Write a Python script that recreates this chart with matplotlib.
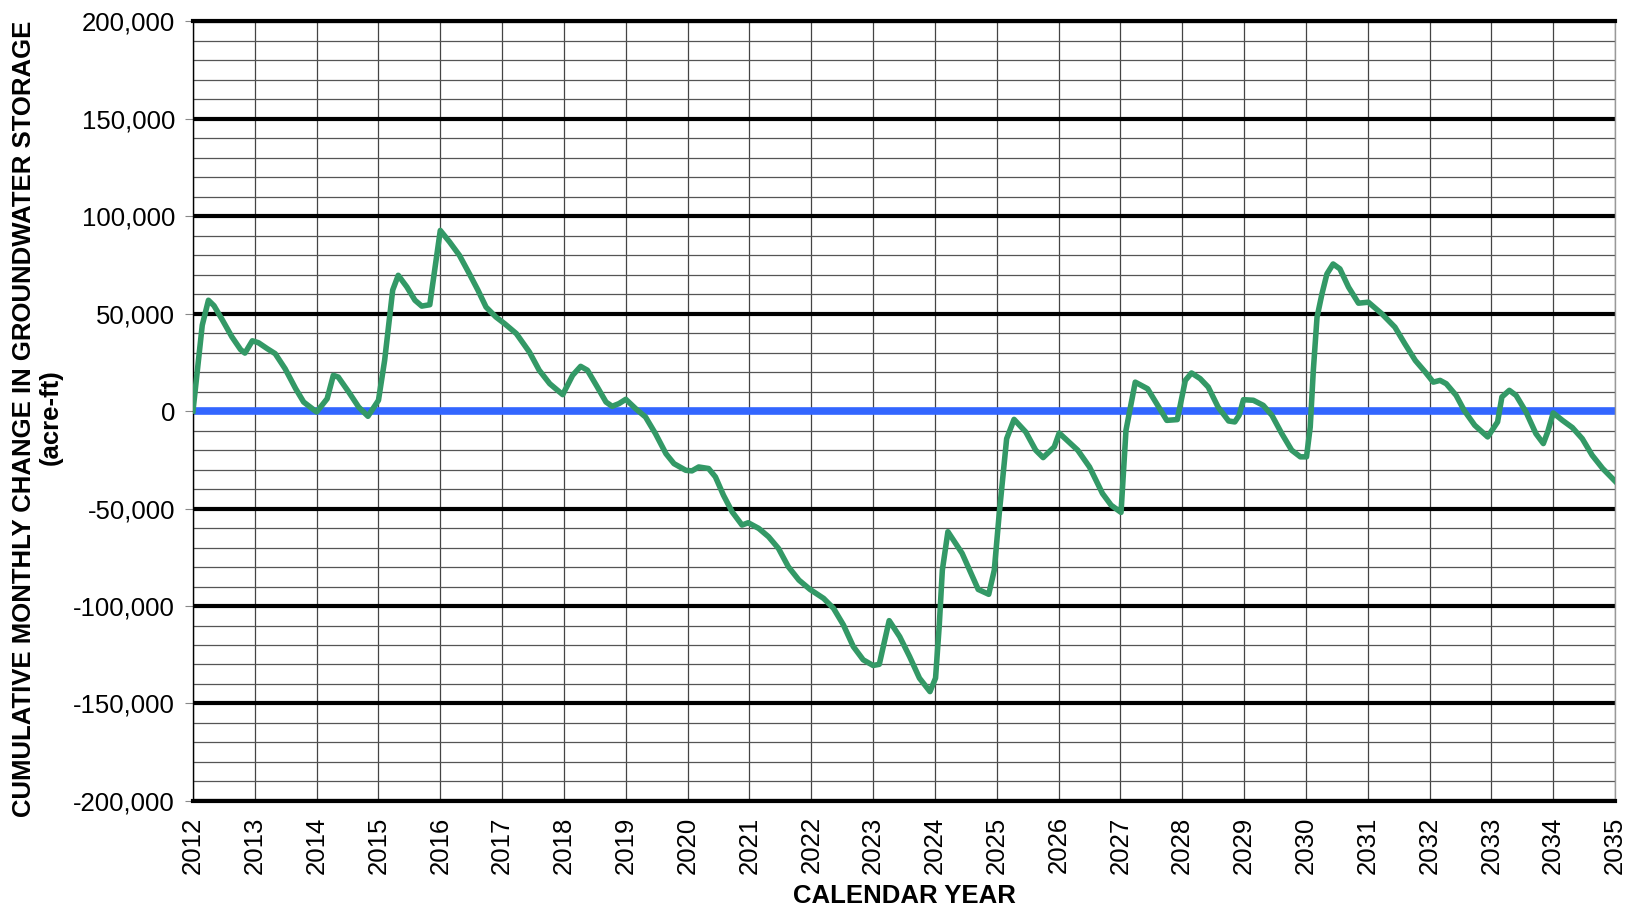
import matplotlib
matplotlib.use('Agg')
from matplotlib import pyplot as plt
from matplotlib.ticker import MultipleLocator, FuncFormatter

plt.rcParams['font.family'] = ['Liberation Sans', 'DejaVu Sans']

# decimal calendar year / cumulative change (acre-ft)
years = [
    2012.0, 2012.15, 2012.25, 2012.34, 2012.47, 2012.63, 2012.77, 2012.84, 2012.96,
    2013.06, 2013.2, 2013.33, 2013.49, 2013.66, 2013.79, 2014.0, 2014.17, 2014.27,
    2014.35, 2014.52, 2014.68, 2014.83, 2015.0, 2015.1, 2015.23, 2015.32, 2015.46,
    2015.59, 2015.7, 2015.83, 2016.0, 2016.15, 2016.31, 2016.47, 2016.61, 2016.74,
    2016.9, 2017.04, 2017.23, 2017.44, 2017.6, 2017.77, 2017.98, 2018.14, 2018.27,
    2018.38, 2018.54, 2018.68, 2018.78, 2018.89, 2019.0, 2019.16, 2019.32, 2019.48,
    2019.65, 2019.78, 2019.97, 2020.07, 2020.18, 2020.34, 2020.45, 2020.58, 2020.72,
    2020.88, 2020.98, 2021.15, 2021.31, 2021.47, 2021.63, 2021.8, 2021.98, 2022.2,
    2022.36, 2022.52, 2022.68, 2022.84, 2023.0, 2023.1, 2023.26, 2023.43, 2023.59,
    2023.75, 2023.92, 2024.01, 2024.07, 2024.12, 2024.21, 2024.44, 2024.7, 2024.87,
    2024.96, 2025.04, 2025.16, 2025.28, 2025.47, 2025.63, 2025.75, 2025.93, 2026.01,
    2026.31, 2026.5, 2026.71, 2026.85, 2027.01, 2027.09, 2027.24, 2027.44, 2027.57,
    2027.75, 2027.92, 2028.05, 2028.15, 2028.29, 2028.42, 2028.58, 2028.75, 2028.85,
    2028.92, 2028.99, 2029.15, 2029.31, 2029.45, 2029.61, 2029.77, 2029.91, 2030.01,
    2030.07, 2030.12, 2030.18, 2030.26, 2030.34, 2030.44, 2030.55, 2030.69, 2030.85,
    2031.01, 2031.23, 2031.44, 2031.6, 2031.77, 2031.93, 2032.06, 2032.17, 2032.27,
    2032.43, 2032.56, 2032.73, 2032.94, 2033.1, 2033.17, 2033.29, 2033.4, 2033.56,
    2033.72, 2033.84, 2033.91, 2034.0, 2034.15, 2034.31, 2034.47, 2034.63, 2034.8,
    2035.01,
]
storage = [
    0, 44000, 56800, 54000, 47000, 38000, 31500, 29700, 36000,
    35000, 32000, 29400, 21700, 11500, 4600, -500, 6300, 18300,
    17400, 9700, 2000, -2700, 5500, 26000, 62000, 69600, 63600,
    56800, 53800, 54500, 92600, 86700, 79800, 70400, 61900, 53300,
    48200, 44800, 39700, 30300, 20900, 14000, 8400, 18300, 22900,
    20900, 12300, 4600, 2400, 3800, 6000, 1200, -3100, -11600,
    -21900, -27000, -30400, -30700, -28700, -29500, -33800, -43200, -51700,
    -58500, -57300, -60200, -64500, -70500, -79900, -86700, -91500, -96100,
    -101200, -109700, -120800, -127600, -130500, -129900, -107500, -115700, -125900,
    -137000, -143900, -137000, -110000, -81600, -61900, -73000, -91500, -94000,
    -81600, -52600, -14200, -4300, -10800, -20100, -23900, -18400, -11300,
    -20100, -28700, -42300, -48300, -52000, -9900, 14800, 11400, 4600,
    -4800, -4400, 15700, 19500, 16600, 12300, 2000, -5100, -5600,
    -2200, 5800, 5500, 2900, -2200, -11600, -20100, -23500, -23500,
    -8200, 20800, 48100, 60100, 70300, 75400, 72900, 63500, 55300,
    55800, 49800, 43000, 34500, 25900, 20000, 14800, 15700, 14000,
    8000, 300, -7300, -13300, -5600, 7200, 10600, 8000, -500,
    -11600, -16700, -10800, -1000, -4800, -8500, -14200, -22700, -29500,
    -36300,
]
year_ticks = list(range(2012, 2036))

fig = plt.figure(figsize=(16.34, 9.06), dpi=100)
ax = fig.add_axes([0.1181, 0.1159, 0.8703, 0.8609])

ax.plot(years, storage, color='#339966', linewidth=4.0, zorder=3,
        solid_joinstyle='round')
ax.axhline(0, color='#3366FF', linewidth=5.5, zorder=2.5)

ax.set_xlim(2012, 2035)
ax.set_ylim(-200000, 200000)
ax.set_xticks(year_ticks)
ax.set_xticklabels([str(y) for y in year_ticks], rotation=90)
ax.yaxis.set_major_locator(MultipleLocator(50000))
ax.yaxis.set_minor_locator(MultipleLocator(10000))
ax.yaxis.set_major_formatter(FuncFormatter(lambda v, p: f'{int(v):,}'))

ax.set_axisbelow(True)
ax.yaxis.grid(True, which='major', color='black', linewidth=3)
ax.yaxis.grid(True, which='minor', color='#555555', linewidth=0.9)
ax.xaxis.grid(True, which='major', color='#444444', linewidth=0.9)

ax.tick_params(axis='y', which='major', length=6, color='#888888',
               labelsize=18.5, pad=7)
ax.tick_params(axis='y', which='minor', length=0)
ax.tick_params(axis='x', which='major', length=0, labelsize=18.5, pad=11)

ax.spines['left'].set_color('black')
ax.spines['left'].set_linewidth(1)
ax.spines['right'].set_color('#999999')
ax.spines['right'].set_linewidth(1)
for side in ['top', 'bottom']:
    ax.spines[side].set_color('black')
    ax.spines[side].set_linewidth(3)

fig.text(0.0145, 0.5375, 'CUMULATIVE MONTHLY CHANGE IN GROUNDWATER STORAGE',
         rotation=90, ha='center', va='center', fontsize=18.5, fontweight='bold')
fig.text(0.0310, 0.54, '(acre-ft)', rotation=90, ha='center', va='center',
         fontsize=18.5, fontweight='bold')
fig.text(0.5535, 1 - 884 / 906, 'CALENDAR YEAR', ha='center', va='top',
         fontsize=18.5, fontweight='bold')

fig.savefig('out.png', dpi=100)
